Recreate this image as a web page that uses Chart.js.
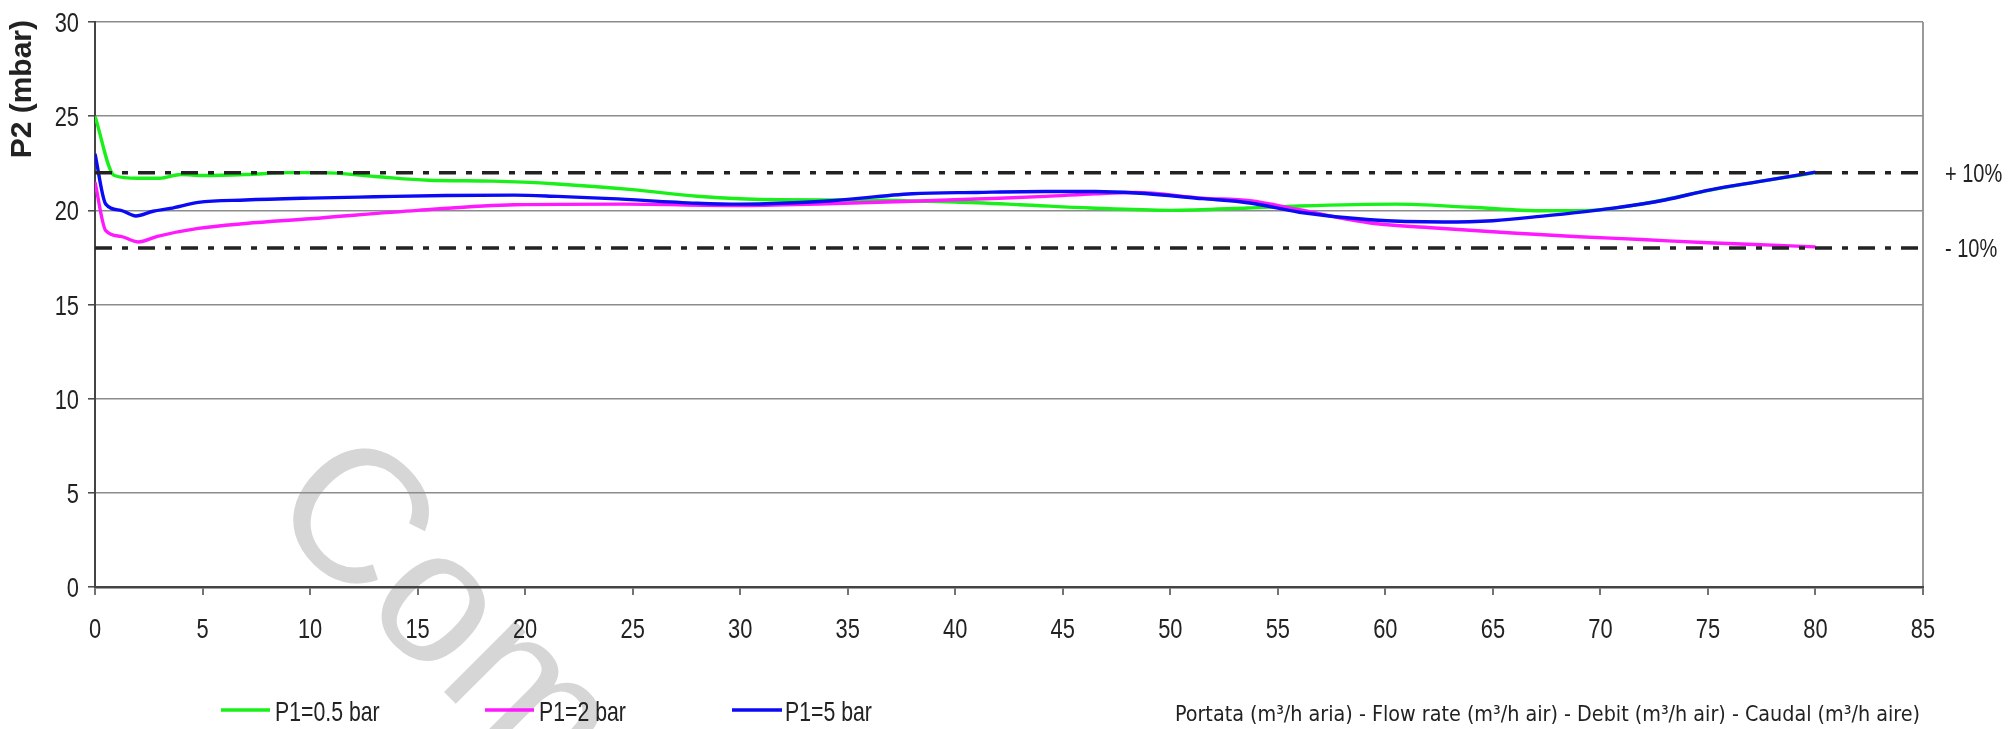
<!DOCTYPE html>
<html>
<head>
<meta charset="utf-8">
<title>P2 - Portata</title>
<script src="https://cdn.jsdelivr.net/npm/chart.js@4.4.1/dist/chart.umd.min.js"></script>
<style>
  html, body { margin: 0; padding: 0; background: #fff; }
  canvas { display: block; }
</style>
</head>
<body>
<canvas id="p2Chart" width="2009" height="729"></canvas>
<script>
// =========================
// DATA
// =========================

const xTicks = [0,5,10,15,20,25,30,35,40,45,50,55,60,65,70,75,80,85];
const yTicks = [0,5,10,15,20,25,30];

// P1=0.5 bar
const greenX = [0,0.9,2,3,4,5,7,9,10.5,13,15.5,18.5,21.5,25,28,31.8,35,40,43,46.3,50,53.6,56,60.5,64,67.2,69.5,72,75,77.5,80];
const greenY = [25,21.85,21.7,21.7,21.9,21.85,21.9,22.0,22.0,21.8,21.6,21.55,21.4,21.1,20.75,20.56,20.55,20.44,20.3,20.12,20.0,20.12,20.23,20.33,20.16,19.98,20.0,20.35,21.05,21.55,22.0];

// P1=2 bar
const magentaX = [0,0.5,1.2,2.0,2.9,4.8,7,10,15,19.5,24.6,29.7,34,38,41,44.2,46.5,48.4,51.5,53.7,56,59.3,62.5,65.9,69,71.9,75,78,80];
const magentaY = [21.5,18.92,18.62,18.32,18.62,19.04,19.3,19.55,20.0,20.3,20.33,20.26,20.35,20.48,20.6,20.74,20.88,20.95,20.65,20.51,20.03,19.33,19.05,18.8,18.6,18.45,18.28,18.15,18.06];

// P1=5 bar
const blueX = [0,0.5,1.2,1.9,2.7,3.5,4.8,7,10,13,16.3,19.5,21.5,24,28,30,33.9,38,41,44.2,46.5,48.4,51.5,53.7,56,59.3,62.7,65,67.2,70.6,73,75.1,77.5,80];
const blueY = [23,20.33,20.0,19.7,19.95,20.1,20.42,20.55,20.65,20.72,20.79,20.81,20.74,20.62,20.38,20.33,20.48,20.88,20.95,21.0,21.0,20.92,20.62,20.39,19.9,19.5,19.38,19.45,19.68,20.12,20.55,21.09,21.55,22.03];

// tolleranza +/- 10% su 20 mbar
const tolX = [0,85];
const plus10 = [22,22];
const minus10 = [18,18];

const seriesLabels = ["P1=0.5 bar","P1=2 bar","P1=5 bar"];
const tolLabels = ["+ 10%","- 10%"];
const xTitle = "Portata (m³/h aria) - Flow rate (m³/h air) - Debit (m³/h air) - Caudal (m³/h aire)";
const yTitle = "P2 (mbar)";

// =========================
// HELPERS
// =========================

const SANS = "'Liberation Sans',Arial,sans-serif";

function pts(xs, ys){
  return xs.map((x,i)=>({x:x, y:ys[i]}));
}

function serie(label, xs, ys, color, order){
  return {
    label: label,
    data: pts(xs, ys),
    borderColor: color,
    borderWidth: 3.4,
    cubicInterpolationMode: "monotone",
    pointRadius: 0,
    fill: false,
    order: order
  };
}

function tolleranza(label, ys){
  return {
    label: label,
    data: pts(tolX, ys),
    borderColor: "#222",
    borderWidth: 3.5,
    borderDash: [17,10,6,10],
    pointRadius: 0,
    fill: false,
    order: 0,
    isTol: true
  };
}

// niente Arial Narrow installato -> stringo a mano
function narrowText(c, txt, x, y, align, size, squeeze){
  c.save();
  c.translate(x, y);
  c.scale(squeeze || 0.78, 1);
  c.font = size + "px " + SANS;
  c.textAlign = align;
  c.textBaseline = "alphabetic";
  c.fillText(txt, 0, 0);
  c.restore();
}

// =========================
// TESTI EXTRA (tick, legenda, titoli, watermark)
// =========================

const extraText = {
  id: "extraText",

  beforeDraw(chart){
    const c = chart.ctx;
    c.save();
    c.translate(263, 511);
    c.rotate(45 * Math.PI / 180);
    c.font = "190px " + SANS;
    c.fillStyle = "#d6d6d6";
    c.textBaseline = "alphabetic";
    c.textAlign = "left";
    c.fillText("Comp", 0, 0);
    c.restore();
  },

  afterDraw(chart){
    const c = chart.ctx;
    const xs = chart.scales.x;
    const ys = chart.scales.y;
    c.save();
    c.fillStyle = "#222";

    // etichette assi
    xTicks.forEach(v=>{
      narrowText(c, String(v), xs.getPixelForValue(v), 638, "center", 28);
    });
    yTicks.forEach(v=>{
      narrowText(c, String(v), 79, ys.getPixelForValue(v) + 10, "right", 28);
    });

    // etichette +/-10%
    narrowText(c, tolLabels[0], 1945, ys.getPixelForValue(plus10[0]) + 9, "left", 25, 0.8);
    narrowText(c, tolLabels[1], 1945, ys.getPixelForValue(minus10[0]) + 9, "left", 25, 0.8);

    // titolo asse y
    c.save();
    c.translate(23, 20);
    c.rotate(-Math.PI/2);
    c.font = "bold 30px " + SANS;
    c.textAlign = "right";
    c.textBaseline = "middle";
    c.fillText(yTitle, 0, 0);
    c.restore();

    // legenda
    const legend = [
      {x1:221, x2:270, tx:275},
      {x1:485, x2:534, tx:539},
      {x1:732, x2:782, tx:785}
    ];
    const series = chart.data.datasets.filter(d=>!d.isTol);
    legend.forEach((l,i)=>{
      c.strokeStyle = series[i].borderColor;
      c.lineWidth = 3.5;
      c.beginPath();
      c.moveTo(l.x1, 710);
      c.lineTo(l.x2, 710);
      c.stroke();
      narrowText(c, seriesLabels[i], l.tx, 721, "left", 28, 0.76);
    });

    // titolo asse x
    c.font = "18px 'DejaVu Sans Condensed','DejaVu Sans',sans-serif";
    const w = c.measureText(xTitle).width;
    const size = 18 * 745 / w;
    c.font = size.toFixed(2) + "px 'DejaVu Sans Condensed','DejaVu Sans',sans-serif";
    c.textAlign = "right";
    c.textBaseline = "middle";
    c.fillText(xTitle, 1920, 715);

    c.restore();
  }
};

// =========================
// CHART
// =========================

const ctx = document.getElementById("p2Chart").getContext("2d");

new Chart(ctx, {
  type: "line",
  data: {
    datasets: [
      serie(seriesLabels[0], greenX, greenY, "#19f019", 3),
      serie(seriesLabels[1], magentaX, magentaY, "#ff19ff", 2),
      serie(seriesLabels[2], blueX, blueY, "#0a0af5", 1),
      tolleranza(tolLabels[0], plus10),
      tolleranza(tolLabels[1], minus10)
    ]
  },
  options: {
    responsive: false,
    animation: false,
    layout: { padding: { left: 0, right: 86, top: 20, bottom: 0 } },
    plugins: {
      legend: { display: false },
      tooltip: { enabled: false }
    },
    scales: {
      x: {
        type: "linear",
        min: xTicks[0],
        max: xTicks[xTicks.length-1],
        afterBuildTicks(s){ s.ticks = xTicks.map(v=>({value:v})); },
        afterFit(s){ s.height = 142; },
        ticks: {
          autoSkip: false,
          maxRotation: 0,
          padding: 17,
          color: "rgba(0,0,0,0)",
          font: { family: SANS, size: 20 }
        },
        grid: {
          color: c => c.tick && c.tick.value === 85 ? "#9a9a9a" : "rgba(0,0,0,0)",
          lineWidth: 2,
          drawTicks: true,
          tickLength: 8,
          tickColor: "#444",
          tickWidth: 1.5
        },
        border: { display: true, color: "#444", width: 2.5 }
      },
      y: {
        min: yTicks[0],
        max: yTicks[yTicks.length-1],
        afterBuildTicks(s){ s.ticks = yTicks.map(v=>({value:v})); },
        afterFit(s){ s.width = 95; },
        ticks: {
          padding: 10,
          color: "rgba(0,0,0,0)",
          font: { family: SANS, size: 20 }
        },
        grid: {
          color: "#8c8c8c",
          lineWidth: 1.6,
          drawTicks: true,
          tickLength: 7,
          tickColor: "#444",
          tickWidth: 1.5
        },
        border: { display: true, color: "#444", width: 2 }
      }
    }
  },
  plugins: [extraText]
});
</script>
</body>
</html>
